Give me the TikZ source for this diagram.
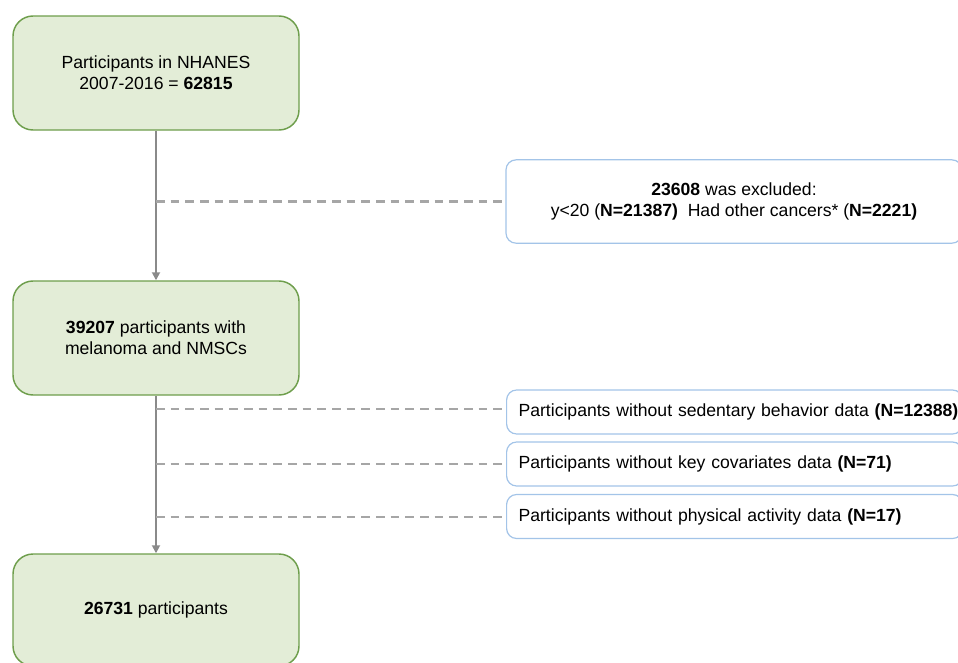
\documentclass[tikz,border=0pt]{standalone}
\usepackage{fontspec}
\setmainfont{Liberation Sans}
\usetikzlibrary{arrows.meta}
\definecolor{gfill}{HTML}{E3EDD7}
\definecolor{gdraw}{HTML}{6E9E4C}
\definecolor{bdraw}{HTML}{A3C4E8}
\definecolor{lgray}{HTML}{8A8A8A}
\definecolor{dgray}{HTML}{A6A6A6}
\begin{document}
\begin{tikzpicture}[x=0.75pt,y=-0.75pt,
  greenbox/.style={draw=gdraw,fill=gfill,line width=1.1pt,rounded corners=15pt,
    minimum width=214.5pt,align=center,font=\fontsize{13.2pt}{15.5pt}\selectfont,inner sep=0pt},
  bluebox/.style={draw=bdraw,fill=white,line width=0.9pt,rounded corners=7.5pt,
    font=\fontsize{13.2pt}{15.5pt}\selectfont,inner sep=0pt},
  listbox/.style={bluebox,minimum width=342pt,minimum height=33pt,anchor=west,text width=342pt,align=left},
  flow/.style={draw=lgray,line width=1.3pt,-{Triangle[width=6pt,length=6pt]}},
  excl/.style={draw=dgray,line width=1.6pt,dash pattern=on 6.5pt off 4.5pt}]
\useasboundingbox (0,0) rectangle (958,662);
\clip (0,0) rectangle (958,662);
\node[greenbox,minimum height=85.5pt] (a) at (156,73) {Participants in NHANES\\2007-2016 = \textbf{62815}};
\node[greenbox,minimum height=85.5pt] (b) at (156,338) {\textbf{39207} participants with\\melanoma and NMSCs};
\node[greenbox,minimum height=84pt] (c) at (156,610) {\textbf{26731} participants};
\node[bluebox,minimum width=342pt,minimum height=62.5pt,align=center] (e1) at (734,201.5) {\textbf{23608} was excluded:\\y<20 (\textbf{N=21387)}\ \ Had other cancers* (\textbf{N=2221)}};
\node[listbox] (e2) at (506,412) {\hspace*{9pt}Participants without sedentary behavior data \textbf{(N=12388)}};
\node[listbox] (e3) at (506,464) {\hspace*{9pt}Participants without key covariates data \textbf{(N=71)}};
\node[listbox] (e4) at (506,516.5) {\hspace*{9pt}Participants without physical activity data \textbf{(N=17)}};
\draw[flow] (a.south) -- (b.north);
\draw[flow] (b.south) -- (c.north);
\coordinate (j1) at (156,201.5);
\coordinate (j2) at (156,409);
\coordinate (j3) at (156,464);
\coordinate (j4) at (156,517);
\draw[excl] (j1) -- (e1.west);
\draw[excl] (j2) -- (e2.west |- j2);
\draw[excl] (j3) -- (e3.west);
\draw[excl] (j4) -- (e4.west |- j4);
\end{tikzpicture}
\end{document}
